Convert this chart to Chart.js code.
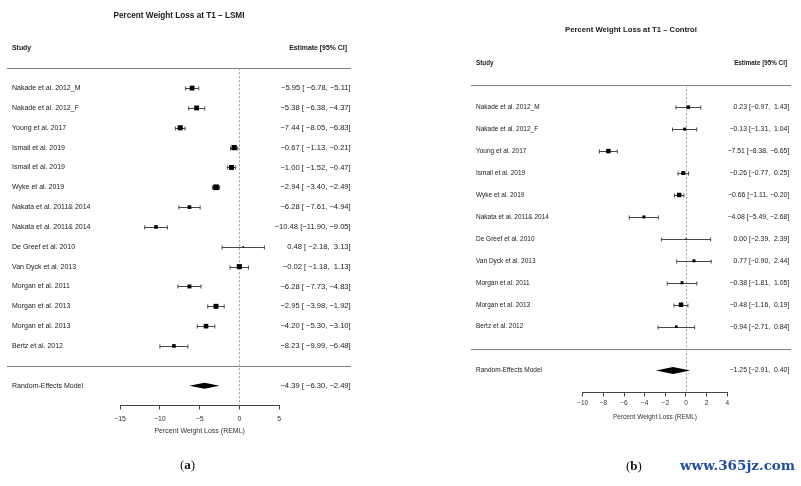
<!DOCTYPE html>
<html>
<head>
<meta charset="utf-8">
<script src="https://cdn.jsdelivr.net/npm/chart.js@4.4.1/dist/chart.umd.min.js"></script>
<style>
  html, body { margin: 0; padding: 0; background: #fff; }
  #wrap { position: relative; width: 801px; height: 486px; overflow: hidden; }
  canvas { position: absolute; left: 0; top: 0; }
  .cap { position: absolute; font-family: "Liberation Serif", serif; font-size: 13px; color: #111; }
  .mark { position: absolute; font-family: "DejaVu Serif", serif; font-weight: bold; font-size: 13.5px; color: #1d4f9d; }
</style>
</head>
<body>
<div id="wrap">
  <canvas id="lsmi" width="801" height="486"></canvas>
  <canvas id="control" width="801" height="486"></canvas>
  <div class="cap" style="left:180px; top:457px;">(<b>a</b>)</div>
  <div class="cap" style="left:626px; top:458px;">(<b>b</b>)</div>
  <div class="mark" style="left:680px; top:457px;">www.365jz.com</div>
</div>
<script>
// ----- (a) LSMI -----
const studiesA = ['Nakade et al. 2012_M', 'Nakade et al. 2012_F', 'Young et al. 2017', 'Ismail et al. 2019',
  'Ismail et al. 2019', 'Wyke et al. 2019', 'Nakata et al. 2011& 2014', 'Nakata et al. 2011& 2014',
  'De Greef et al. 2010', 'Van Dyck et al. 2013', 'Morgan et al. 2011', 'Morgan et al. 2013',
  'Morgan et al. 2013', 'Bertz et al. 2012'];
const estA   = [-5.95, -5.38, -7.44, -0.67, -1.00, -2.94, -6.28, -10.48, 0.48, -0.02, -6.28, -2.95, -4.20, -8.23];
const lowerA = [-6.78, -6.38, -8.05, -1.13, -1.52, -3.40, -7.61, -11.90, -2.18, -1.18, -7.73, -3.98, -5.30, -9.99];
const upperA = [-5.11, -4.37, -6.83, -0.21, -0.47, -2.49, -4.94, -9.05, 3.13, 1.13, -4.83, -1.92, -3.10, -6.48];
const weightsA = [6.9, 6.9, 7.2, 7.6, 7.1, 8.1, 5.3, 5.2, 2.1, 7.3, 5.6, 7.1, 6.6, 5.2];
const modelA = [-4.39, -6.30, -2.49];   // estimate, lower, upper
const ticksA = [-15, -10, -5, 0, 5];

// ----- (b) Control -----
const studiesB = ['Nakade et al. 2012_M', 'Nakade et al. 2012_F', 'Young et al. 2017', 'Ismail et al. 2019',
  'Wyke et al. 2019', 'Nakata et al. 2011& 2014', 'De Greef et al. 2010', 'Van Dyck et al. 2013',
  'Morgan et al. 2011', 'Morgan et al. 2013', 'Bertz et al. 2012'];
const estB   = [0.23, -0.13, -7.51, -0.26, -0.66, -4.08, 0.00, 0.77, -0.38, -0.48, -0.94];
const lowerB = [-0.97, -1.31, -8.38, -0.77, -1.11, -5.49, -2.39, -0.90, -1.81, -1.16, -2.71];
const upperB = [1.43, 1.04, -6.65, 0.25, -0.20, -2.68, 2.39, 2.44, 1.05, 0.19, 0.84];
const weightsB = [5.0, 4.3, 6.4, 5.7, 6.4, 4.3, 1.7, 4.3, 4.3, 6.4, 3.6];
const modelB = [-1.25, -2.91, 0.40];
const ticksB = [-10, -8, -6, -4, -2, 0, 2, 4];

const FONT = '"Liberation Sans", Arial, sans-serif';
const fmt = v => (v < 0 ? '\u2212' : '') + Math.abs(v).toFixed(2);
const padL = (s, n) => ' '.repeat(Math.max(0, n - s.length)) + s;

// R-style "est [lo, hi]" column, padded so the brackets line up
function ciLabels(est, lower, upper, model) {
  const e = est.concat(model[0]).map(fmt);
  const l = lower.concat(model[1]).map(fmt);
  const u = upper.concat(model[2]).map(fmt);
  const we = Math.max(...e.map(s => s.length));
  const wl = Math.max(...l.map(s => s.length));
  const wu = Math.max(...u.map(s => s.length));
  return e.map((s, i) => padL(s, we) + ' [' + padL(l[i], wl) + ', ' + padL(u[i], wu) + ']');
}

const forest = {
  id: 'forest',
  beforeDatasetsDraw(chart, args, o) {
    const { ctx, chartArea, scales: { x, y } } = chart;
    const n = o.est.length;
    ctx.save();
    ctx.lineWidth = 1;
    // header / footer rules
    ctx.strokeStyle = '#808080';
    [0, n + 1].forEach(r => {
      const py = Math.round(y.getPixelForValue(r)) + 0.5;
      ctx.beginPath(); ctx.moveTo(o.lineLeft, py); ctx.lineTo(o.lineRight, py); ctx.stroke();
    });
    // reference line at 0
    ctx.strokeStyle = '#a0a0a0';
    ctx.setLineDash([2, 2]);
    const zx = Math.round(x.getPixelForValue(0)) + 0.5;
    ctx.beginPath(); ctx.moveTo(zx, y.getPixelForValue(0)); ctx.lineTo(zx, chartArea.bottom); ctx.stroke();
    ctx.setLineDash([]);
    // confidence intervals
    ctx.strokeStyle = '#484848';
    o.est.forEach((v, i) => {
      const py = Math.round(y.getPixelForValue(i + 1)) + 0.5;
      const x1 = x.getPixelForValue(o.lower[i]), x2 = x.getPixelForValue(o.upper[i]);
      ctx.beginPath();
      ctx.moveTo(x1, py); ctx.lineTo(x2, py);
      ctx.moveTo(x1, py - o.cap); ctx.lineTo(x1, py + o.cap);
      ctx.moveTo(x2, py - o.cap); ctx.lineTo(x2, py + o.cap);
      ctx.stroke();
    });
    ctx.restore();
  },
  afterDatasetsDraw(chart, args, o) {
    const { ctx, scales: { x, y } } = chart;
    const n = o.est.length;
    ctx.save();
    // summary diamond
    const my = y.getPixelForValue(n + 2);
    ctx.fillStyle = '#000';
    ctx.beginPath();
    ctx.moveTo(x.getPixelForValue(o.model[1]), my);
    ctx.lineTo(x.getPixelForValue(o.model[0]), my - o.diamond);
    ctx.lineTo(x.getPixelForValue(o.model[2]), my);
    ctx.lineTo(x.getPixelForValue(o.model[0]), my + o.diamond);
    ctx.closePath();
    ctx.fill();

    ctx.fillStyle = '#1a1a1a';
    ctx.textBaseline = 'middle';
    ctx.textAlign = 'center';
    ctx.font = `bold ${o.titleSize}px ${FONT}`;
    ctx.fillText(o.title, (o.lineLeft + o.lineRight) / 2, y.getPixelForValue(o.titleRow));

    ctx.font = `bold ${o.headSize}px ${FONT}`;
    ctx.textAlign = 'left';
    ctx.fillText('Study', o.textLeft, y.getPixelForValue(-1));
    ctx.textAlign = 'right';
    ctx.fillText('Estimate [95% CI]', o.headRight, y.getPixelForValue(-1));

    const labels = ciLabels(o.est, o.lower, o.upper, o.model);
    o.studies.concat('Random-Effects Model').forEach((s, i) => {
      const py = y.getPixelForValue(i < n ? i + 1 : n + 2);
      ctx.font = `${o.textSize}px ${FONT}`;
      ctx.textAlign = 'left';
      ctx.fillText(s, o.textLeft, py);
      ctx.font = `${o.numSize}px ${FONT}`;
      ctx.textAlign = 'right';
      ctx.fillText(labels[i], o.textRight, py);
    });
    ctx.restore();
  }
};

function forestChart(id, d, look) {
  const n = d.studies.length;
  const tickFmt = v => (v < 0 ? '\u2212' + Math.abs(v) : String(v));
  return new Chart(document.getElementById(id), {
    type: 'scatter',
    data: {
      datasets: [{
        data: d.est.map((v, i) => ({ x: v, y: i + 1 })),
        pointStyle: 'rect',
        pointRadius: d.weights.map(w => w * look.boxScale / Math.SQRT2),
        backgroundColor: '#000',
        borderWidth: 0,
        clip: false
      }]
    },
    options: {
      responsive: false,
      animation: false,
      events: [],
      layout: { padding: look.padding },
      plugins: {
        legend: { display: false },
        tooltip: { enabled: false },
        forest: Object.assign({}, d, look.text)
      },
      scales: {
        x: {
          type: 'linear',
          min: d.ticks[0],
          max: d.ticks[d.ticks.length - 1],
          afterBuildTicks: s => { s.ticks = d.ticks.map(v => ({ value: v })); },
          grid: { display: true, drawOnChartArea: false, drawTicks: true, tickLength: 4, color: '#444' },
          border: { display: true, color: '#444', width: 1 },
          ticks: { color: '#333', padding: look.tickPad, font: { family: FONT, size: look.tickSize }, callback: tickFmt },
          title: {
            display: true, text: 'Percent Weight Loss (REML)', color: '#333',
            font: { family: FONT, size: look.tickSize }, padding: { top: look.titlePad, bottom: 0 }
          }
        },
        y: { type: 'linear', display: false, reverse: true, min: -3, max: n + 3 }
      }
    },
    plugins: [forest]
  });
}

forestChart('lsmi',
  { studies: studiesA, est: estA, lower: lowerA, upper: upperA, weights: weightsA, model: modelA, ticks: ticksA,
    title: 'Percent Weight Loss at T1 \u2013 LSMI' },
  { padding: { left: 120, right: 521.7, top: 8.75, bottom: 50.6 }, boxScale: 0.7, tickSize: 7, tickPad: 5, titlePad: -0.9,
    text: { lineLeft: 7, lineRight: 351, textLeft: 12, textRight: 350.7, headRight: 347, titleRow: -2.65,
      titleSize: 8.2, headSize: 6.9, textSize: 7, numSize: 7.6, cap: 2, diamond: 3 } });

forestChart('control',
  { studies: studiesB, est: estB, lower: lowerB, upper: upperB, weights: weightsB, model: modelB, ticks: ticksB,
    title: 'Percent Weight Loss at T1 \u2013 Control' },
  { padding: { left: 582.7, right: 73.7, top: 19.4, bottom: 64.9 }, boxScale: 0.7, tickSize: 6.5, tickPad: 3, titlePad: 3,
    text: { lineLeft: 471, lineRight: 791, textLeft: 476, textRight: 789.3, headRight: 787, titleRow: -2.52,
      titleSize: 7.7, headSize: 6.3, textSize: 6.5, numSize: 6.9, cap: 2, diamond: 3.5 } });
</script>
</body>
</html>
